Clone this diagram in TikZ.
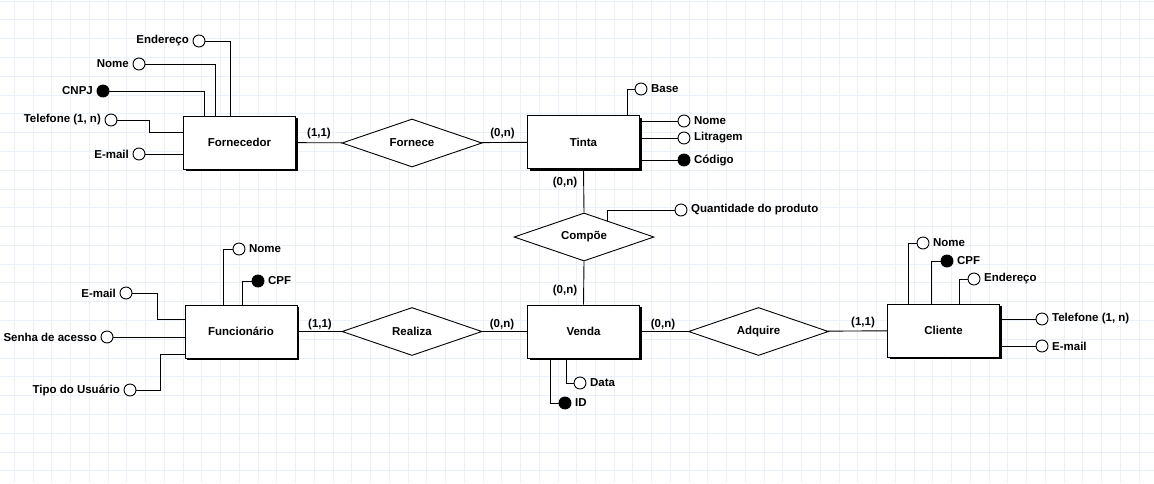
\documentclass[tikz,border=0pt]{standalone}
\usepackage{fontspec}
\setmainfont{Liberation Sans}
\usetikzlibrary{shapes.geometric,shadows,calc}
\definecolor{gridc}{RGB}{234,240,247}
\begin{document}
\begin{tikzpicture}[x=1pt,y=-1pt,
  every node/.style={font=\fontsize{11.5}{13}\selectfont\bfseries, inner sep=0pt},
  line/.style={line width=0.9pt},
  entity/.style={draw, line width=0.9pt, fill=white, minimum width=112pt, minimum height=53pt,
    drop shadow={shadow xshift=2pt, shadow yshift=-2pt, fill=black, opacity=1}},
  rel/.style={draw, diamond, aspect=3, line width=0.9pt, fill=white, minimum width=140pt, minimum height=48pt},
  attr/.style={draw, circle, line width=0.9pt, fill=white, minimum size=12pt},
  key/.style={attr, fill=black},
  atl/.style={label={[label distance=3.5pt]left:{#1}}},
  atr/.style={label={[label distance=3.5pt]right:{#1}}},
  gridline/.style={gridc, line width=0.8pt}
]
\fill[white] (0,0) rectangle (1154,483);
\useasboundingbox (0,0) rectangle (1154,483);
\foreach \i in {0,...,60} \draw[gridline] ({14.3+18.745*\i},0) -- ({14.3+18.745*\i},483);
\foreach \j in {0,...,25} \draw[gridline] (0,{1+18.79*\j}) -- (1154,{1+18.79*\j});

% entities
\node[entity] (forn) at (239.5,142.5) {Fornecedor};
\node[entity] (tinta) at (583.5,142) {Tinta};
\node[entity] (func) at (241,331.5) {Funcionário};
\node[entity] (venda) at (583.5,331.5) {Venda};
\node[entity] (cli) at (943.5,330.5) {Cliente};
% relationships
\node[rel] (fornece) at (412,143) {Fornece};
\node[rel] (compoe) at (584,237) {Compõe};
\node[rel] (realiza) at (412,331.5) {Realiza};
\node[rel] (adquire) at (758.5,331.5) {Adquire};

\draw[line] (forn) -- (fornece);
\draw[line] (fornece) -- (tinta);
\draw[line] (tinta.south) -- (compoe.north);
\draw[line] (compoe.south) -- (venda.north);
\draw[line] (func) -- (realiza);
\draw[line] (realiza) -- (venda);
\draw[line] (venda) -- (adquire);
\draw[line] (adquire) -- (cli);

% cardinalities
\node (k1) at (319,134) {(1,1)};
\node (k2) at (502.5,134) {(0,n)};
\node (k3) at (565,183) {(0,n)};
\node (k4) at (565,291) {(0,n)};
\node (k5) at (320,325) {(1,1)};
\node (k6) at (502,325) {(0,n)};
\node (k7) at (663,325) {(0,n)};
\node (k8) at (863,323) {(1,1)};

% Fornecedor attributes
\node[attr, atl=Endereço] (fend) at (199,41) {};
\node[attr, atl=Nome] (fnome) at (139,64) {};
\node[key, atl=CNPJ] (fcnpj) at (103,91) {};
\node[attr, atl={Telefone (1, n)}] (ftel) at (111,120) {};
\node[attr, atl=E-mail] (femail) at (139,154) {};
\draw[line] ($(forn.north)+(-9.5,0)$) |- (fend);
\draw[line] ($(forn.north)+(-24.5,0)$) |- (fnome);
\draw[line] ($(forn.north)+(-35.5,0)$) |- (fcnpj);
\draw[line] (ftel) -| ($(forn.west)+(-34,-10.5)$) -- ($(forn.west)+(0,-10.5)$);
\draw[line] (femail) -- (femail -| forn.west);

% Tinta attributes
\node[attr, atr=Base] (tbase) at (641,89) {};
\node[attr, atr=Nome] (tnome) at (684,121) {};
\node[attr, atr=Litragem] (tlit) at (684,138) {};
\node[key, atr=Código] (tcod) at (684,160) {};
\draw[line] ($(tinta.north)+(43.5,0)$) |- (tbase);
\draw[line] (tnome) -- (tnome -| tinta.east);
\draw[line] (tlit) -- (tlit -| tinta.east);
\draw[line] (tcod) -- (tcod -| tinta.east);

% Compõe attribute
\node[attr, atr=Quantidade do produto] (cqtd) at (681,210) {};
\draw[line] ($(compoe.north)!0.33!(compoe.east)$) |- (cqtd);

% Funcionário attributes
\node[attr, atr=Nome] (funome) at (239,249) {};
\node[key, atr=CPF] (fucpf) at (258,281) {};
\node[attr, atl=E-mail] (fuemail) at (126,293) {};
\node[attr, atl=Senha de acesso] (fusenha) at (107,337) {};
\node[attr, atl=Tipo do Usuário] (futipo) at (130,390) {};
\draw[line] ($(func.north)+(-18,0)$) |- (funome);
\draw[line] ($(func.north)+(1,0)$) |- (fucpf);
\draw[line] (fuemail) -| ($(func.west)+(-27,-12.5)$) -- ($(func.west)+(0,-12.5)$);
\draw[line] (fusenha) -- (fusenha -| func.west);
\draw[line] (futipo) -| ($(func.west)+(-24,22.5)$) -- ($(func.west)+(0,22.5)$);

% Venda attributes
\node[attr, atr=Data] (vdata) at (580,383) {};
\node[key, atr=ID] (vid) at (565,403) {};
\draw[line] ($(venda.south)+(-17.5,0)$) |- (vdata);
\draw[line] ($(venda.south)+(-33.5,0)$) |- (vid);

% Cliente attributes
\node[attr, atr=Nome] (cnome) at (923,243) {};
\node[key, atr=CPF] (ccpf) at (947,261) {};
\node[attr, atr=Endereço] (cend) at (974,279) {};
\node[attr, atr={Telefone (1, n)}] (ctel) at (1042,319) {};
\node[attr, atr=E-mail] (cemail) at (1042,346) {};
\draw[line] ($(cli.north)+(-35.5,0)$) |- (cnome);
\draw[line] ($(cli.north)+(-12.5,0)$) |- (ccpf);
\draw[line] ($(cli.north)+(15.5,0)$) |- (cend);
\draw[line] (ctel) -- (ctel -| cli.east);
\draw[line] (cemail) -- (cemail -| cli.east);
\end{tikzpicture}
\end{document}
